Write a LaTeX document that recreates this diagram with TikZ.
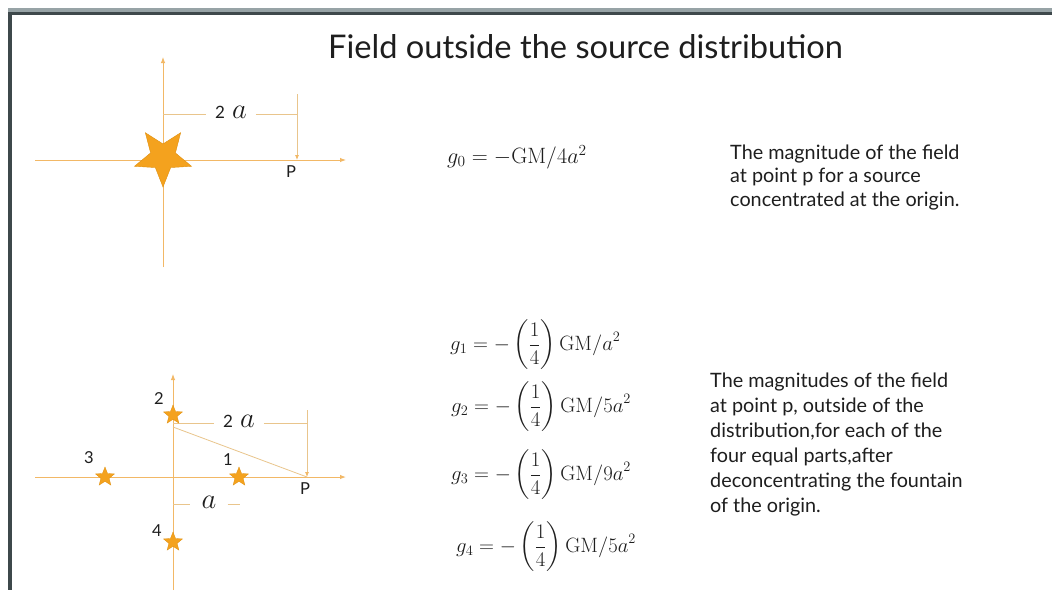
\RequirePackage{fix-cm}
\documentclass[tikz,border=0pt]{standalone}
\usepackage[no-math]{fontspec}
\setmainfont{Lato}
\usepackage{amsmath}
\usepackage{graphicx}
\usetikzlibrary{arrows.meta,shapes.geometric}
\definecolor{axiscol}{HTML}{F2B866}
\definecolor{dimcol}{HTML}{E9C58C}
\definecolor{starfill}{HTML}{F4A21E}
\definecolor{staredge}{HTML}{E0900F}
\definecolor{txtcol}{HTML}{1E1E1E}
\definecolor{barlight}{HTML}{97A3A6}
\definecolor{bardark}{HTML}{3E484B}
\tikzset{
  axisline/.style={draw=axiscol, line width=1pt, -{Latex[length=6pt,width=4.5pt]}},
  dimline/.style={draw=dimcol, line width=0.8pt},
  dimarrow/.style={draw=dimcol, line width=0.8pt, -{Latex[length=5pt,width=4pt,color=axiscol]}},
  bigstar/.style={star, star points=5, star point ratio=2.3, shape border rotate=180, minimum size=60pt, inner sep=0pt, fill=starfill, draw=staredge, line width=0.4pt},
  smallstar/.style={star, star points=5, star point ratio=2.3, minimum size=20pt, inner sep=0pt, fill=starfill, draw=staredge, line width=0.3pt},
  lbl/.style={text=txtcol, inner sep=0pt, font=\fontsize{16.5}{18}\selectfont},
  dimlbl/.style={text=txtcol, inner xsep=9pt, inner ysep=0pt},
  eqn/.style={text=txtcol, anchor=west, inner sep=0pt, font=\fontsize{20.74}{25}\selectfont},
  body/.style={text=txtcol, anchor=base west, inner sep=0pt, font=\fontsize{19.8}{23}\selectfont},
  ttl/.style={text=txtcol, anchor=base west, inner sep=0pt, font=\fontsize{32.6}{38}\selectfont}
}
\newcommand{\bigA}{{\fontsize{24.88}{30}\selectfont\scalebox{1.15}{$a$}}}
\newcommand{\twoA}{{\fontsize{17}{20}\selectfont 2}\hspace{7pt}\bigA}
\begin{document}
\begin{tikzpicture}[x=1pt,y=-1pt]
\useasboundingbox (0,0) rectangle (1052,590);
\fill[white] (0,0) rectangle (1052,590);
\fill[barlight] (8,8) rectangle (1052,12);
\fill[bardark] (8,12) rectangle (1052,15);
\fill[bardark] (8,12) rectangle (12,590);

% title
\node[ttl] (title) at (328,58) {Field outside the source distribution};

% ---------- top diagram ----------
\coordinate (h0w) at (35,160);
\coordinate (h0e) at (346,160);
\coordinate (v0b) at (163,267);
\coordinate (v0t) at (163,57);
\draw[axisline] (h0w) -- (h0e);
\draw[axisline] (v0b) -- (v0t);
\node[bigstar] (s0) at (163,157) {};
\coordinate (d0l) at (163,114);
\coordinate (d0r) at (297,114);
\coordinate (d0t) at (297,94);
\coordinate (p0) at (297,160);
\node[dimlbl] (d0) at (231,112) {\twoA};
\draw[dimline] (d0l) -- (d0.west |- d0l);
\draw[dimline] (d0.east |- d0r) -- (d0r);
\draw[dimarrow] (d0t) -- (p0);
\node[lbl] (P0) at (291,172) {P};

% g0 and text
\node[eqn] (g0) at (447,157) {\scalebox{1.07}{$g_0 = -\mathrm{GM}/4a^2$}};
\node[body] (r1) at (730,159) {The magnitude of the field};
\node[body] (r2) at (730,182.5) {at point p for a source};
\node[body] (r3) at (730,206) {concentrated at the origin.};

% ---------- bottom diagram ----------
\coordinate (h1w) at (35,477);
\coordinate (h1e) at (346,477);
\coordinate (v1b) at (173,590);
\coordinate (v1t) at (173,374);
\draw[axisline] (h1w) -- (h1e);
\draw[axisline] (v1b) -- (v1t);
\coordinate (d1l) at (173,423);
\coordinate (d1r) at (307,423);
\coordinate (d1t) at (307,410);
\coordinate (p1) at (307,477);
\coordinate (sl) at (173,427);
\node[dimlbl] (d1) at (239,421) {\twoA};
\draw[dimline] (d1l) -- (d1.west |- d1l);
\draw[dimline] (d1.east |- d1r) -- (d1r);
\draw[dimarrow] (d1t) -- (p1);
\draw[dimline] (sl) -- (p1);
\coordinate (d2l) at (173,504);
\coordinate (d2r) at (240,504);
\node[dimlbl, inner xsep=11pt] (d2) at (209,502) {\bigA};
\draw[dimline] (d2l) -- (d2.west |- d2l);
\draw[dimline] (d2.east |- d2r) -- (d2r);
\node[smallstar] (s1) at (239,477) {};
\node[smallstar] (s2) at (173,415) {};
\node[smallstar] (s3) at (105,477) {};
\node[smallstar] (s4) at (173,542) {};
\node[lbl] (n1) at (228,460) {1};
\node[lbl] (n2) at (159,399) {2};
\node[lbl] (n3) at (89,458) {3};
\node[lbl] (n4) at (157,531) {4};
\node[lbl] (P1) at (305,489) {P};

% equations
\node[eqn] (g1) at (450,345) {$\displaystyle g_1 = -\left(\frac{1}{4}\right)\mathrm{GM}/a^2$};
\node[eqn] (g2) at (451,407) {$\displaystyle g_2 = -\left(\frac{1}{4}\right)\mathrm{GM}/5a^2$};
\node[eqn] (g3) at (451,475) {$\displaystyle g_3 = -\left(\frac{1}{4}\right)\mathrm{GM}/9a^2$};
\node[eqn] (g4) at (456,547) {$\displaystyle g_4 = -\left(\frac{1}{4}\right)\mathrm{GM}/5a^2$};

% bottom text
\node[body] (b1) at (710,387) {The magnitudes of the field};
\node[body] (b2) at (710,412) {at point p, outside of the};
\node[body] (b3) at (710,437) {distribution,for each of the};
\node[body] (b4) at (710,462) {four equal parts,after};
\node[body] (b5) at (710,487) {deconcentrating the fountain};
\node[body] (b6) at (710,512) {of the origin.};
\end{tikzpicture}
\end{document}
